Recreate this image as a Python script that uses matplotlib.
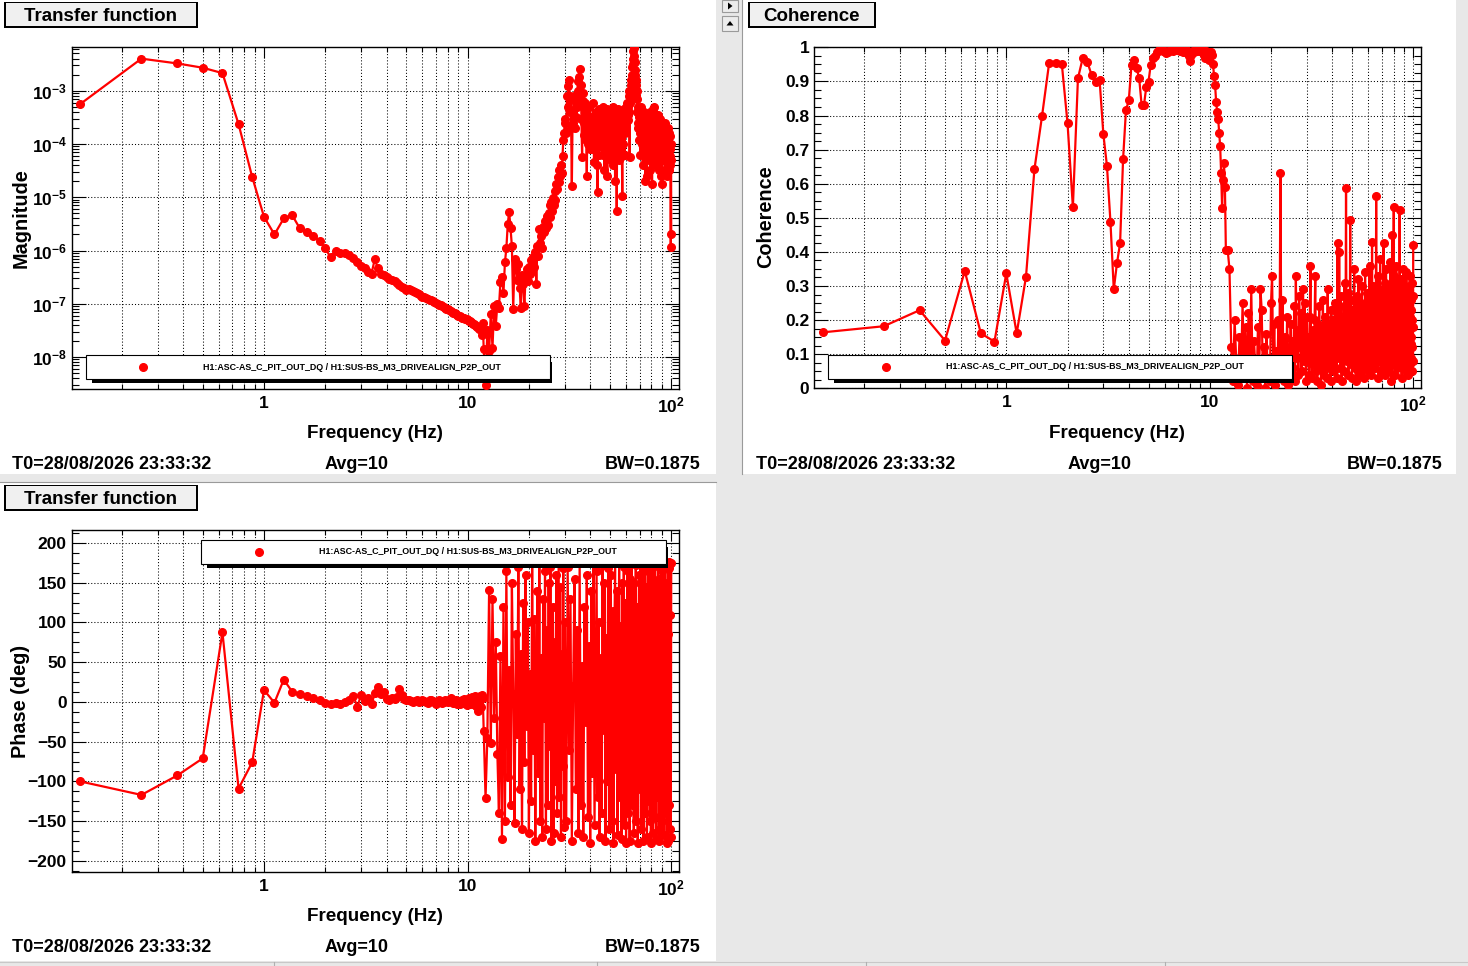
import numpy as np
import matplotlib
matplotlib.use('Agg')
import matplotlib.pyplot as plt
from matplotlib.patches import Rectangle, Polygon
from matplotlib.lines import Line2D
from matplotlib.ticker import FixedLocator, FixedFormatter, NullFormatter, MultipleLocator

# ---------------- data ----------------
# frequency bins (Hz): 0.125 Hz spacing up to 12 Hz, then coarser sampling of the dense part
freq_low = np.arange(1, 97) * 0.125           # 0.125 .. 12.0
freq_mid = 12.0 + np.arange(1, 73) * 0.25     # 12.25 .. 30.0
freq_high = 30.0 + np.arange(1, 141) * 0.5    # 30.5 .. 100.0   (phase)
freq_fine_high = 30.0 + np.arange(1, 281) * 0.25  # 30.25 .. 100.0 (magnitude, coherence)

mag_low = [
    5.6e-4, 4.0e-3, 3.25e-3, 2.7e-3, 2.14e-3, 2.35e-4, 2.4e-5, 4.3e-6,
    2.0e-6, 4.0e-6, 4.6e-6, 2.6e-6, 2.25e-6, 1.9e-6, 1.5e-6, 1.1e-6,
    7.4e-7, 9.8e-7, 9.1e-7, 8.8e-7, 8.1e-7, 7.1e-7, 6.2e-7, 5.2e-7,
    4.6e-7, 4.0e-7, 3.7e-7, 6.9e-7, 4.6e-7, 3.6e-7, 3.4e-7, 3.2e-7,
    2.9e-7, 2.8e-7, 2.7e-7, 2.5e-7, 2.3e-7, 2.05e-7, 1.95e-7, 1.85e-7,
    1.9e-7, 1.8e-7, 1.72e-7, 1.65e-7, 1.6e-7, 1.52e-7, 1.42e-7, 1.36e-7,
    1.33e-7, 1.28e-7, 1.25e-7, 1.2e-7, 1.16e-7, 1.12e-7, 1.09e-7, 1.05e-7,
    1.0e-7, 9.6e-8, 9.3e-8, 9.0e-8, 8.6e-8, 8.3e-8, 8.1e-8, 7.9e-8,
    7.6e-8, 7.3e-8, 7.0e-8, 6.8e-8, 6.6e-8, 6.4e-8, 6.2e-8, 6.0e-8,
    5.8e-8, 5.7e-8, 5.5e-8, 5.4e-8, 5.3e-8, 5.2e-8, 5.1e-8, 5.0e-8,
    4.8e-8, 4.7e-8, 4.5e-8, 4.4e-8, 4.2e-8, 4.1e-8, 4.0e-8, 3.9e-8,
    3.7e-8, 3.6e-8, 3.4e-8, 3.3e-8, 3.6e-8, 2.6e-8, 4.3e-8, 1.4e-8,
]
mag_mid = [
    3.0e-9, 3.2e-8, 1.3e-8, 6.5e-8, 1.5e-8, 9.0e-8, 3.8e-8, 1.0e-7,
    8.5e-8, 2.6e-7, 3.2e-7, 1.6e-7, 6.0e-7, 1.1e-6, 3.2e-6, 5.3e-6,
    2.6e-6, 1.2e-6, 8.0e-8, 7.0e-7, 4.5e-7, 2.8e-7, 5.5e-7, 2.0e-7,
    8.5e-8, 3.5e-7, 2.4e-7, 9.0e-8, 3.3e-7, 4.5e-7, 2.7e-7, 5.0e-7,
    3.6e-7, 6.5e-7, 4.2e-7, 7.5e-7, 5.0e-7, 9.5e-7, 2.4e-7, 1.2e-6,
    8.0e-7, 2.5e-6, 1.4e-6, 1.9e-6, 1.1e-6, 2.8e-6, 2.2e-6, 3.6e-6,
    2.6e-6, 4.5e-6, 3.0e-6, 5.0e-6, 7.0e-6, 4.2e-6, 8.0e-6, 5.5e-6,
    9.5e-6, 7.0e-6, 1.3e-5, 9.0e-6, 1.8e-5, 1.4e-5, 2.4e-5, 1.9e-5,
    3.2e-5, 2.5e-5, 4.0e-5, 2.8e-5, 6.0e-5, 1.2e-4, 1.6e-4, 2.5e-4,
]
mag_high = [
    3.0e-4, 1.6e-4, 8.0e-4, 5.0e-4, 1.2e-3, 1.6e-3, 4.0e-4, 7.9e-4, 2.0e-4, 1.6e-5,
    2.5e-4, 4.0e-4, 8.0e-4, 6.3e-4, 2.0e-4, 3.2e-4, 7.0e-4, 5.0e-4, 1.5e-3, 1.0e-3,
    1.8e-3, 2.6e-3, 6.0e-4, 1.26e-3, 3.0e-4, 5.6e-5, 9.0e-4, 6.3e-4, 1.5e-4, 2.5e-4,
    6.0e-4, 4.0e-4, 1.2e-4, 2.5e-5, 3.5e-4, 1.0e-4, 2.0e-4, 5.0e-4, 8.0e-5, 1.6e-4,
    3.0e-4, 7.9e-5, 1.5e-4, 3.2e-4, 6.0e-4, 2.8e-4, 4.5e-5, 1.0e-4, 2.2e-4, 4.0e-4,
    1.6e-4, 4.0e-5, 3.5e-4, 1.26e-5, 2.0e-4, 6.3e-5, 4.5e-4, 2.5e-4, 9.0e-5, 1.26e-4,
    2.0e-4, 4.0e-4, 1.4e-4, 6.3e-5, 5.0e-4, 3.2e-4, 1.0e-4, 3.2e-5, 3.0e-4, 1.26e-4,
    7.0e-5, 2.5e-4, 4.5e-4, 2.5e-5, 1.2e-4, 1.6e-4, 2.8e-4, 4.0e-4, 6.0e-5, 1.0e-4,
    2.5e-4, 5.0e-5, 1.6e-4, 3.2e-4, 1.0e-4, 4.0e-5, 5.0e-4, 2.5e-4, 1.4e-4, 6.3e-5,
    2.8e-4, 2.0e-5, 3.5e-4, 1.26e-4, 7.0e-5, 5.6e-6, 2.0e-4, 1.0e-4, 4.5e-4, 3.2e-4,
    1.6e-4, 5.0e-5, 3.5e-4, 2.0e-4, 1.2e-4, 7.9e-5, 2.5e-4, 4.0e-4, 6.0e-5, 1.07e-5,
    3.0e-4, 1.6e-4, 1.0e-4, 2.5e-4, 4.5e-4, 6.3e-5, 1.6e-4, 3.2e-4, 5.0e-4, 2.0e-4,
    2.5e-4, 4.0e-4, 6.0e-4, 2.8e-4, 3.5e-4, 5.0e-4, 1.0e-3, 7.9e-4, 4.0e-4, 5.6e-5,
    6.0e-4, 1.0e-3, 1.6e-3, 1.26e-3, 8.0e-4, 2.0e-3, 1.5e-3, 2.8e-3, 3.2e-3, 4.0e-3,
    5.5e-3, 6.3e-3, 7.0e-3, 4.5e-3, 3.5e-3, 2.5e-3, 2.0e-3, 1.26e-3, 1.6e-3, 7.9e-4,
    1.0e-3, 4.0e-4, 7.0e-4, 5.0e-4, 2.0e-4, 2.5e-4, 4.5e-4, 3.2e-4, 1.2e-4, 1.6e-4,
    3.0e-4, 6.3e-5, 2.5e-4, 2.0e-4, 5.0e-4, 1.0e-4, 1.6e-4, 2.5e-4, 3.5e-4, 4.0e-5,
    2.0e-4, 1.6e-4, 1.0e-4, 7.9e-5, 4.0e-4, 2.5e-4, 1.4e-4, 2.0e-5, 3.0e-4, 1.4e-4,
    2.0e-4, 6.3e-5, 1.2e-4, 2.5e-5, 3.5e-4, 2.0e-4, 1.6e-4, 1.0e-4, 2.5e-4, 5.0e-5,
    1.0e-4, 2.5e-4, 4.0e-4, 7.9e-5, 1.6e-4, 3.2e-5, 2.8e-4, 1.26e-4, 6.0e-5, 2.0e-4,
    1.2e-4, 1.8e-5, 3.0e-4, 1.6e-4, 4.5e-4, 2.8e-4, 1.4e-4, 6.3e-5, 2.0e-4, 3.2e-4,
    5.0e-4, 1.0e-4, 2.0e-4, 4.0e-5, 1.2e-4, 2.5e-4, 3.5e-4, 7.9e-5, 1.6e-4, 2.0e-4,
    3.0e-4, 5.0e-5, 2.5e-4, 1.6e-4, 3.5e-4, 1.26e-4, 8.0e-5, 3.2e-5, 2.5e-4, 2.0e-4,
    1.0e-4, 1.4e-4, 3.0e-4, 6.3e-5, 1.2e-4, 2.5e-5, 2.0e-4, 1.6e-4, 7.0e-5, 1.8e-5,
    1.4e-4, 7.9e-5, 2.5e-4, 1.6e-4, 1.0e-4, 5.0e-5, 2.0e-4, 1.1e-4, 1.6e-4, 6.3e-5,
    1.0e-4, 3.2e-5, 2.5e-4, 1.6e-4, 1.2e-4, 5.0e-5, 1.8e-4, 7.9e-5, 1.0e-4, 2.5e-5,
    1.6e-4, 6.3e-5, 1.4e-4, 1.0e-4, 2.0e-4, 4.0e-5, 1.2e-4, 6.3e-5, 1.6e-4, 3.2e-5,
    1.0e-4, 5.0e-5, 1.4e-4, 7.9e-5, 6.0e-5, 4.0e-5, 1.0e-4, 1.15e-6, 5.0e-5, 2.0e-6,
]

coh_low = [
    0.164, 0.182, 0.229, 0.140, 0.344, 0.161, 0.137, 0.337,
    0.161, 0.327, 0.642, 0.800, 0.955, 0.955, 0.951, 0.777,
    0.531, 0.909, 0.968, 0.958, 0.919, 0.899, 0.904, 0.745,
    0.652, 0.489, 0.290, 0.367, 0.425, 0.672, 0.816, 0.844,
    0.948, 0.963, 0.938, 0.909, 0.831, 0.831, 0.883, 0.899,
    0.948, 0.968, 0.975, 0.985, 0.992, 0.995, 0.988, 0.990,
    0.982, 0.985, 0.992, 0.994, 0.990, 0.993, 0.996, 0.991,
    0.988, 0.993, 0.985, 0.990, 0.994, 0.982, 0.975, 0.960,
    0.978, 0.990, 0.985, 0.994, 0.988, 0.992, 0.996, 0.990,
    0.985, 0.992, 0.978, 0.970, 0.988, 0.975, 0.962, 0.985,
    0.985, 0.978, 0.950, 0.916, 0.888, 0.840, 0.810, 0.790,
    0.750, 0.710, 0.630, 0.530, 0.610, 0.660, 0.590, 0.405,
]
coh_mid = [
    0.405, 0.350, 0.12, 0.02, 0.20, 0.08, 0.01, 0.15,
    0.05, 0.25, 0.03, 0.18, 0.00, 0.22, 0.07, 0.29,
    0.02, 0.14, 0.06, 0.01, 0.18, 0.04, 0.29, 0.23,
    0.03, 0.12, 0.00, 0.16, 0.05, 0.09, 0.02, 0.25,
    0.33, 0.06, 0.19, 0.01, 0.11, 0.04, 0.20, 0.07,
    0.63, 0.03, 0.26, 0.10, 0.02, 0.15, 0.05, 0.21,
    0.01, 0.12, 0.08, 0.19, 0.03, 0.14, 0.06, 0.24,
    0.02, 0.33, 0.09, 0.17, 0.04, 0.27, 0.12, 0.22,
    0.05, 0.18, 0.29, 0.08, 0.25, 0.13, 0.02, 0.21,
]
coh_high = [
    0.08, 0.15, 0.04, 0.21, 0.36, 0.10, 0.03, 0.17, 0.07, 0.12,
    0.20, 0.33, 0.05, 0.14, 0.02, 0.19, 0.09, 0.24, 0.06, 0.13,
    0.01, 0.18, 0.11, 0.26, 0.04, 0.15, 0.08, 0.21, 0.12, 0.03,
    0.17, 0.29, 0.10, 0.06, 0.19, 0.13, 0.02, 0.23, 0.09, 0.16,
    0.07, 0.20, 0.14, 0.05, 0.25, 0.11, 0.18, 0.03, 0.22, 0.425,
    0.15, 0.09, 0.40, 0.19, 0.06, 0.27, 0.12, 0.02, 0.21, 0.16,
    0.10, 0.24, 0.05, 0.31, 0.14, 0.19, 0.587, 0.08, 0.22, 0.13,
    0.28, 0.04, 0.20, 0.17, 0.11, 0.494, 0.07, 0.26, 0.15, 0.03,
    0.18, 0.09, 0.23, 0.12, 0.35, 0.06, 0.16, 0.21, 0.02, 0.14,
    0.27, 0.10, 0.19, 0.05, 0.32, 0.13, 0.08, 0.22, 0.17, 0.04,
    0.25, 0.11, 0.16, 0.30, 0.07, 0.20, 0.13, 0.03, 0.24, 0.18,
    0.09, 0.34, 0.12, 0.21, 0.06, 0.15, 0.28, 0.10, 0.19, 0.05,
    0.14, 0.22, 0.08, 0.36, 0.17, 0.11, 0.26, 0.04, 0.19, 0.13,
    0.43, 0.09, 0.23, 0.16, 0.30, 0.07, 0.20, 0.12, 0.27, 0.15,
    0.06, 0.21, 0.564, 0.14, 0.25, 0.10, 0.33, 0.18, 0.03, 0.22,
    0.12, 0.29, 0.08, 0.17, 0.38, 0.11, 0.24, 0.05, 0.19, 0.13,
    0.27, 0.09, 0.20, 0.15, 0.06, 0.425, 0.18, 0.12, 0.31, 0.04,
    0.23, 0.16, 0.10, 0.35, 0.19, 0.07, 0.26, 0.13, 0.21, 0.08,
    0.17, 0.30, 0.11, 0.22, 0.05, 0.19, 0.14, 0.37, 0.09, 0.25,
    0.16, 0.02, 0.28, 0.12, 0.45, 0.20, 0.07, 0.24, 0.15, 0.33,
    0.533, 0.13, 0.21, 0.08, 0.29, 0.17, 0.04, 0.24, 0.11, 0.36,
    0.19, 0.14, 0.06, 0.27, 0.10, 0.22, 0.31, 0.09, 0.18, 0.15,
    0.25, 0.12, 0.523, 0.20, 0.07, 0.16, 0.32, 0.10, 0.23, 0.14,
    0.03, 0.28, 0.18, 0.11, 0.26, 0.06, 0.21, 0.35, 0.13, 0.19,
    0.09, 0.24, 0.15, 0.30, 0.12, 0.19, 0.05, 0.27, 0.17, 0.34,
    0.10, 0.22, 0.14, 0.08, 0.29, 0.18, 0.11, 0.25, 0.04, 0.20,
    0.16, 0.28, 0.10, 0.21, 0.33, 0.07, 0.19, 0.13, 0.26, 0.09,
    0.23, 0.15, 0.31, 0.05, 0.20, 0.12, 0.27, 0.18, 0.08, 0.42,
]

phase_low = [
    -100, -117, -92.5, -71, 87.5, -109, -76, 15,
    -1, 28, 13, 10, 7, 5, 2, -1.5,
    -2, -1, -2.5, 0, 2, 7, -6, 9,
    1, 5, -3, 11, 19, 10, 12, 4,
    3, 5, 4, 6, 16, 9, 4, 3,
    2, 1, 0.5, 1, 2, 0, 1, 3,
    1, 0, -1, 2, 3, 1, 0, -2,
    0, 2, 1, -1, 0, 2, 1, 0,
    3, 5, 1, -1, 0, 2, -2, 1,
    -3, 0, 2, -1, 4, 1, -4, 2,
    5, -2, 0, 6, -3, 2, 7, -5,
    3, -12, 4, 8, -6, 9, 5, -37,
]
phase_mid = [
    -121, -45, 141, -52, 130, -20, 75, -65,
    -140, 58, -172, 120, -150, 165, -95, 40,
    -130, 150, 10, -152, 85, -40, 170, -110,
    60, -160, 125, -75, 160, -30, 100, -165,
    35, -125, 175, -60, 105, -175, 20, 140,
    -90, 178, -150, 55, -170, 130, -20, 165,
    -160, 90, -130, 150, -55, 170, -175, 40,
    120, -165, 75, -100, 160, -140, 10, 175,
    -120, 145, -170, 60, -80, 168, -158, 100,
]
phase_high = [
    -150, 170, -60, 130, -175, 20, 155, -110, 90, -165,
    175, -130, 45, -170, 120, -25, 160, -145, 70, -178,
    140, -90, 178, -155, 10, 165, -120, 100, -170, 55,
    -140, 172, -35, 150, -175, 80, -100, 168, -160, 30,
    160, -150, 115, -178, 60, 175, -85, 140, -168, -10,
    178, -120, 95, -172, 150, -45, 170, -155, 125, -178,
    40, 165, -140, 100, -175, 155, -70, 178, -130, 85,
    -165, 150, -25, 172, -150, 120, -178, 65, 160, -110,
    175, -160, 135, -60, 170, -175, 90, -140, 178, -30,
    145, -170, 55, 165, -125, 178, -150, 105, -178, 160,
    -80, 170, -165, 130, -20, 175, -145, 95, -172, 150,
    -120, 178, -40, 155, -175, 115, -160, 170, 75, -150,
    165, -95, 178, -168, 140, -60, 172, -140, 120, -178,
    150, -175, 85, 168, -130, 176, -160, 110, -170, 175,
]

freq_phase = np.concatenate([freq_low, freq_mid, freq_high])
freq_fine = np.concatenate([freq_low, freq_mid, freq_fine_high])
magnitude = np.concatenate([mag_low, mag_mid, mag_high])
coherence = np.concatenate([coh_low, coh_mid, coh_high])
phase = np.concatenate([phase_low, phase_mid, phase_high])

legend_label = "H1:ASC-AS_C_PIT_OUT_DQ / H1:SUS-BS_M3_DRIVEALIGN_P2P_OUT"
info_t0 = "T0=28/08/2026 23:33:32"
info_avg = "Avg=10"
info_bw = "BW=0.1875"

x_major = [1, 10, 100]
x_major_labels = ["1", "10", r"$10^{2}$"]
x_minor = [k * 0.1 for k in range(2, 10)] + list(range(2, 10)) + [k * 10 for k in range(2, 10)]
mag_major = [1e-8, 1e-7, 1e-6, 1e-5, 1e-4, 1e-3]
mag_labels = [r"$10^{-8}$", r"$10^{-7}$", r"$10^{-6}$", r"$10^{-5}$", r"$10^{-4}$", r"$10^{-3}$"]
mag_minor = [k * 10.0 ** e for e in range(-9, -2) for k in range(2, 10)]
coh_major = [0, 0.1, 0.2, 0.3, 0.4, 0.5, 0.6, 0.7, 0.8, 0.9, 1.0]
coh_labels = ["0", "0.1", "0.2", "0.3", "0.4", "0.5", "0.6", "0.7", "0.8", "0.9", "1"]
phase_major = [-200, -150, -100, -50, 0, 50, 100, 150, 200]
phase_labels = ["\u2212200", "\u2212150", "\u2212100", "\u221250", "0", "50", "100", "150", "200"]

# ---------------- style ----------------
plt.rcParams['font.family'] = ['Liberation Sans', 'DejaVu Sans']
plt.rcParams['font.weight'] = 'bold'
plt.rcParams['mathtext.fontset'] = 'custom'
plt.rcParams['mathtext.rm'] = 'Liberation Sans:bold'
plt.rcParams['mathtext.bf'] = 'Liberation Sans:bold'
plt.rcParams['mathtext.it'] = 'Liberation Sans:bold'
plt.rcParams['mathtext.default'] = 'rm'

W, H = 1468, 966
fig = plt.figure(figsize=(W / 100, H / 100), dpi=100)
fig.patch.set_facecolor('#e8e8e8')

RED = '#ff0000'
GRID = dict(color='black', linestyle=(0, (1, 2)), linewidth=0.75)
XMIN, XMAX = 0.1135, 109.2
INFO_FS = 13


def fx(x):
    return x / W


def fy(y):
    return 1 - y / H


def frect(x0, y0, x1, y1, **kw):
    r = Rectangle((fx(x0), fy(y1)), (x1 - x0) / W, (y1 - y0) / H,
                  transform=fig.transFigure, **kw)
    fig.add_artist(r)
    return r


# panel backgrounds
frect(0, 0, 716, 474, facecolor='white', edgecolor='none', zorder=-10)
frect(742, 0, 1456, 474, facecolor='white', edgecolor='none', zorder=-10)
frect(0, 483, 716, 961, facecolor='white', edgecolor='none', zorder=-10)
fig.add_artist(Line2D([fx(0), fx(716)], [fy(482.5), fy(482.5)], transform=fig.transFigure,
                      color='#9a9a9a', lw=0.8, zorder=-9))
fig.add_artist(Line2D([fx(741.5), fx(741.5)], [fy(0), fy(474)], transform=fig.transFigure,
                      color='#9a9a9a', lw=0.8, zorder=-9))
fig.add_artist(Line2D([fx(0), fx(1468)], [fy(962), fy(962)], transform=fig.transFigure,
                      color='#c8c8c8', lw=0.8, zorder=-9))
for xs in [274, 597, 866, 1165]:
    fig.add_artist(Line2D([fx(xs), fx(xs)], [fy(962), fy(966)], transform=fig.transFigure,
                          color='#b0b0b0', lw=0.8, zorder=-9))

# small scroll buttons
for (y0, y1, tri) in [(0, 12, 'right'), (16, 31, 'up')]:
    frect(722, y0, 738, y1, facecolor='#ececec', edgecolor='#9a9a9a', lw=0.8, zorder=2)
    cx, cy = 730, (y0 + y1) / 2
    if tri == 'right':
        pts = [(cx - 2, cy - 3.5), (cx - 2, cy + 3.5), (cx + 2.5, cy)]
    else:
        pts = [(cx - 3.5, cy + 2), (cx + 3.5, cy + 2), (cx, cy - 2.5)]
    fig.add_artist(Polygon([(fx(a), fy(b)) for a, b in pts], closed=True,
                           transform=fig.transFigure, facecolor='black', edgecolor='none', zorder=3))


def title_box(x0, y0, x1, y1, text):
    frect(x0, y0, x1 + 2, y1 + 2, facecolor='black', edgecolor='none', zorder=4)
    frect(x0 + 1.5, y0 + 1, x1 - 0.5, y1 - 0.5, facecolor='#f0f0f0', edgecolor='none', zorder=5)
    fig.text(fx((x0 + x1) / 2), fy(y1 - 5), text, ha='center', va='baseline',
             fontsize=13.5, fontweight='bold', zorder=6)


def legend_box(x0, y0, x1, y1, mx, tx):
    frect(x0 + 6, y0 + 7, x1 + 2, y1 + 3.5, facecolor='black', edgecolor='none', zorder=4)
    frect(x0, y0, x1, y1, facecolor='white', edgecolor='black', lw=0.8, zorder=5)
    cy = (y0 + y1) / 2
    fig.add_artist(Line2D([fx(mx)], [fy(cy)], transform=fig.transFigure, marker='o',
                          color=RED, markersize=5.5, zorder=6))
    fig.text(fx(tx), fy(cy), legend_label, ha='center', va='center', fontsize=6.4,
             fontweight='bold', family=['Liberation Sans Narrow', 'Liberation Sans'], zorder=6)


def info_line(xl, xc, xr, yb):
    fig.text(fx(xl), fy(yb), info_t0, ha='left', va='baseline', fontsize=INFO_FS, fontweight='bold')
    fig.text(fx(xc), fy(yb), info_avg, ha='center', va='baseline', fontsize=INFO_FS, fontweight='bold')
    fig.text(fx(xr), fy(yb), info_bw, ha='right', va='baseline', fontsize=INFO_FS, fontweight='bold')


def make_axes(x0, y0, x1, y1):
    ax = fig.add_axes([fx(x0), fy(y1), (x1 - x0) / W, (y1 - y0) / H])
    ax.set_facecolor('white')
    ax.set_xscale('log')
    ax.set_xlim(XMIN, XMAX)
    ax.xaxis.set_major_locator(FixedLocator(x_major))
    ax.xaxis.set_major_formatter(FixedFormatter(x_major_labels))
    ax.xaxis.set_minor_locator(FixedLocator(x_minor))
    ax.xaxis.set_minor_formatter(NullFormatter())
    ax.tick_params(which='both', direction='in', top=True, right=True, colors='black', width=0.8)
    ax.tick_params(axis='x', which='major', length=8, labelsize=12.5, pad=4.8)
    ax.tick_params(axis='x', which='minor', length=3.8)
    ax.tick_params(axis='y', which='major', length=10, labelsize=12.5, pad=3.5)
    ax.tick_params(axis='y', which='minor', length=5)
    for s in ax.spines.values():
        s.set_linewidth(1.0)
        s.set_color('black')
    ax.grid(True, which='both', axis='x', **GRID)
    ax.grid(True, which='major', axis='y', **GRID)
    ax.set_axisbelow(True)
    return ax


def plot_series(ax, x, y):
    ax.plot(x, y, '-', color=RED, lw=1.6, zorder=3)
    ax.plot(x, y, 'o', color=RED, markersize=5.5, zorder=3)


# ---- magnitude ----
ax1 = make_axes(71.6, 47.3, 679, 389.3)
ax1.set_yscale('log')
ax1.set_ylim(2.48e-9, 6.53e-3)
ax1.yaxis.set_major_locator(FixedLocator(mag_major))
ax1.yaxis.set_major_formatter(FixedFormatter(mag_labels))
ax1.yaxis.set_minor_locator(FixedLocator(mag_minor))
ax1.yaxis.set_minor_formatter(NullFormatter())
plot_series(ax1, freq_fine, magnitude)

# ---- coherence ----
ax2 = make_axes(814, 47.3, 1421, 388.3)
ax2.set_ylim(0, 1)
ax2.yaxis.set_major_locator(FixedLocator(coh_major))
ax2.yaxis.set_major_formatter(FixedFormatter(coh_labels))
ax2.yaxis.set_minor_locator(MultipleLocator(0.025))
plot_series(ax2, freq_fine, coherence)

# ---- phase ----
ax3 = make_axes(71.6, 530.3, 679, 872)
ax3.set_ylim(-214, 216)
ax3.yaxis.set_major_locator(FixedLocator(phase_major))
ax3.yaxis.set_major_formatter(FixedFormatter(phase_labels))
ax3.yaxis.set_minor_locator(MultipleLocator(12.5))
plot_series(ax3, freq_phase, phase)

# axis titles
fig.text(fx(375), fy(438), 'Frequency (Hz)', ha='center', va='baseline', fontsize=13.6, fontweight='bold')
fig.text(fx(1117), fy(438), 'Frequency (Hz)', ha='center', va='baseline', fontsize=13.6, fontweight='bold')
fig.text(fx(375), fy(921), 'Frequency (Hz)', ha='center', va='baseline', fontsize=13.6, fontweight='bold')
fig.text(fx(21), fy(218), 'Magnitude', ha='center', va='center', rotation=90, fontsize=14.3, fontweight='bold')
fig.text(fx(766), fy(217), 'Coherence', ha='center', va='center', rotation=90, fontsize=14.3, fontweight='bold')
fig.text(fx(21), fy(701), 'Phase (deg)', ha='center', va='center', rotation=90, fontsize=14.3, fontweight='bold')

# title boxes
title_box(4, 2, 196, 26, 'Transfer function')
title_box(748, 2, 874, 26, 'Coherence')
title_box(4, 485, 196, 509, 'Transfer function')

# legends
legend_box(85.5, 355, 549.5, 379.5, 143, 352)
legend_box(828, 354.5, 1292, 379, 886, 1095)
legend_box(201, 540, 666, 564, 259, 468)

# info lines
info_line(12, 357, 701, 469)
info_line(756, 1100, 1443, 469)
info_line(12, 357, 701, 952)

fig.savefig('out.png', dpi=100, facecolor=fig.get_facecolor())
